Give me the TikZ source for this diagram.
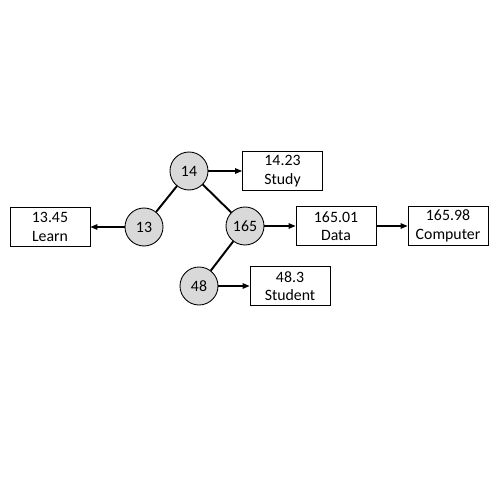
\documentclass[tikz,border=0pt]{standalone}
\usepackage{fontspec}
\setsansfont{Carlito}
\usepackage{xcolor}
\usetikzlibrary{positioning, arrows.meta}
\definecolor{nodefill}{RGB}{217, 217, 217}

\begin{document}
\begin{tikzpicture}[
    font=\sffamily\fontsize{9}{10.5}\selectfont,
    >={Triangle[length=4pt, width=3.2pt]},
    % Styles definition
    keynode/.style={circle, draw, fill=nodefill, line width=0.5pt, minimum size=0.76cm, inner sep=0pt},
    valbox/.style={rectangle, draw, fill=white, line width=0.5pt, align=center, minimum width=1.6cm, minimum height=0.78cm, inner sep=1pt},
    treeedge/.style={line width=1.1pt},
    arrow/.style={->, line width=0.6pt}
]
\useasboundingbox (0,0) rectangle (10,10);

% 1. Tree nodes
\node[keynode] (k14) at (3.78, 6.58) {14};
\node[keynode] (k13) at (2.88, 5.46) {13};
\node[keynode] (k165) at (4.90, 5.48) {165};
\node[keynode] (k48) at (3.98, 4.28) {48};

% 2. Value boxes
\node[valbox] (learn) at (1.00, 5.46) {13.45\\Learn};
\node[valbox] (study) at (5.65, 6.58) {14.23\\Study};
\node[valbox] (data) at (6.72, 5.48) {165.01\\Data};
\node[valbox] (computer) at (8.96, 5.48) {165.98\\Computer};
\node[valbox] (student) at (5.80, 4.28) {48.3\\Student};

% --- Tree edges ---
\draw[treeedge] (k14) -- (k13);
\draw[treeedge] (k14) -- (k165);
\draw[treeedge] (k165) -- (k48);

% --- Arrows ---
\draw[arrow] (k14) -- (study);
\draw[arrow] (k13) -- (learn);
\draw[arrow] (k165) -- (data);
\draw[arrow] (data) -- (computer);
\draw[arrow] (k48) -- (student);

\end{tikzpicture}
\end{document}
